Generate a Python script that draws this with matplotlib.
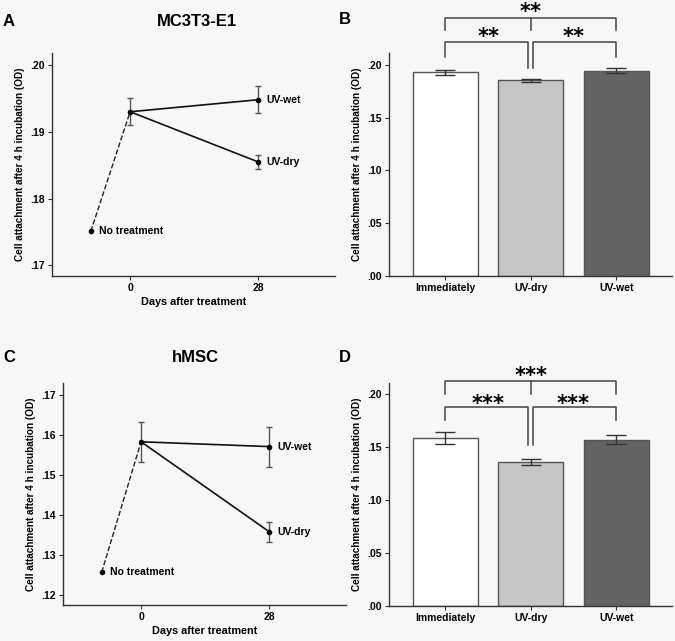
import matplotlib.pyplot as plt
from matplotlib.ticker import FuncFormatter

plt.rcParams['font.family'] = ['Liberation Sans', 'DejaVu Sans']

# line charts (A, C): days, means, error bar half ranges
days_nt = -8.6
days = [0, 28]
a_nt = 0.1751
a_day0 = 0.1930
a_day0_err = 0.0020
a_wet = 0.1948
a_wet_err = 0.0020
a_dry = 0.1855
a_dry_err = 0.0010

c_nt = 0.1257
c_day0 = 0.1583
c_day0_err = 0.0050
c_wet = 0.1571
c_wet_err = 0.0050
c_dry = 0.1358
c_dry_err = 0.0025

# bar charts (B, D)
groups = ['Immediately', 'UV-dry', 'UV-wet']
b_vals = [0.1931, 0.1855, 0.1946]
b_errs = [0.0025, 0.0013, 0.0027]
d_vals = [0.1582, 0.1356, 0.1568]
d_errs = [0.0055, 0.0027, 0.0043]
bar_colors = ['#ffffff', '#c6c6c6', '#636363']

bg = '#f7f7f7'
fmt = FuncFormatter(lambda v, p: ('%.2f' % v).lstrip('0'))

fig = plt.figure(figsize=(6.75, 6.41), dpi=100, facecolor=bg)


def style(ax):
    ax.set_facecolor(bg)
    for s in ['top', 'right']:
        ax.spines[s].set_visible(False)
    for s in ['left', 'bottom']:
        ax.spines[s].set_color('#333333')
        ax.spines[s].set_linewidth(1.0)
    ax.tick_params(axis='both', length=3, width=0.8, color='#333333', labelsize=7.5, pad=2)
    for lab in ax.get_xticklabels() + ax.get_yticklabels():
        lab.set_fontweight('bold')
    ax.yaxis.set_major_formatter(fmt)
    ax.set_ylabel('Cell attachment after 4 h incubation (OD)', fontsize=7.2, fontweight='bold', labelpad=4)


def line_panel(rect, nt, d0, d0e, wet, wete, dry, drye, ylim, yticks):
    ax = fig.add_axes(rect)
    ax.plot([days_nt, days[0]], [nt, d0], '--', color='#222222', lw=1)
    ax.plot(days, [d0, wet], '-', color='#111111', lw=1.2)
    ax.plot(days, [d0, dry], '-', color='#111111', lw=1.2)
    ax.errorbar([days[0], days[1], days[1]], [d0, wet, dry], yerr=[d0e, wete, drye],
                fmt='none', ecolor='#555555', elinewidth=1, capsize=2.2, capthick=1)
    ax.plot([days_nt, days[0], days[1], days[1]], [nt, d0, wet, dry], 'o', color='black', ms=3)
    ax.text(days[1] + 1.8, wet, 'UV-wet', fontsize=7.5, fontweight='bold', va='center')
    ax.text(days[1] + 1.8, dry, 'UV-dry', fontsize=7.5, fontweight='bold', va='center')
    ax.text(days_nt + 1.8, nt, 'No treatment', fontsize=7.5, fontweight='bold', va='center')
    ax.set_xlim(-17.1, 44.8)
    ax.set_ylim(*ylim)
    ax.set_xticks(days)
    ax.set_yticks(yticks)
    style(ax)
    ax.set_xlabel('Days after treatment', fontsize=7.8, fontweight='bold', labelpad=3)
    return ax


def bar_panel(rect, vals, errs, ylim, br, stars):
    ax = fig.add_axes(rect)
    x = range(len(groups))
    ax.bar(x, vals, width=0.76, color=bar_colors, edgecolor='#555555', linewidth=1)
    ax.errorbar(x, vals, yerr=errs, fmt='none', ecolor='#333333', elinewidth=1, capsize=7, capthick=1)
    ax.set_xlim(-0.663, 2.657)
    ax.set_ylim(*ylim)
    ax.set_xticks(list(x))
    ax.set_xticklabels(groups)
    ax.set_yticks([0, 0.05, 0.10, 0.15, 0.20])
    style(ax)
    o_top, o_leg, i_top, i_leg_out, i_leg_in, s_out, s_in = br
    kw = dict(color='#444444', lw=1.1, clip_on=False)
    ax.plot([0, 0, 2, 2], [o_leg, o_top, o_top, o_leg], **kw)
    ax.plot([1, 1], [o_top, o_leg], **kw)
    ax.plot([0, 0, 0.97, 0.97], [i_leg_out, i_top, i_top, i_leg_in], **kw)
    ax.plot([1.03, 1.03, 2, 2], [i_leg_in, i_top, i_top, i_leg_out], **kw)
    skw = dict(fontsize=15, fontweight='bold', family='DejaVu Sans', ha='center', va='center', clip_on=False)
    ax.text(1, s_out, stars, **skw)
    ax.text(0.5, s_in, stars, **skw)
    ax.text(1.5, s_in, stars, **skw)
    return ax


line_panel([0.077, 0.5694, 0.419, 0.3479], a_nt, a_day0, a_day0_err, a_wet, a_wet_err,
           a_dry, a_dry_err, (0.1684, 0.2018), [0.17, 0.18, 0.19, 0.20])
bar_panel([0.576, 0.5694, 0.42, 0.3479], b_vals, b_errs, (0, 0.2113),
          (0.244, 0.233, 0.2214, 0.2078, 0.1969, 0.2505, 0.2265), '**')
line_panel([0.093, 0.0562, 0.42, 0.3463], c_nt, c_day0, c_day0_err, c_wet, c_wet_err,
           c_dry, c_dry_err, (0.1175, 0.173), [0.12, 0.13, 0.14, 0.15, 0.16, 0.17])
bar_panel([0.576, 0.0546, 0.42, 0.3479], d_vals, d_errs, (0, 0.2101),
          (0.2123, 0.2, 0.1871, 0.1755, 0.1519, 0.2165, 0.1905), '***')

fig.text(197 / 675, 1 - 22 / 641, 'MC3T3-E1', fontsize=12, fontweight='bold', ha='center', va='center')
fig.text(195 / 675, 1 - 358 / 641, 'hMSC', fontsize=12, fontweight='bold', ha='center', va='center')
for lab, xp, yp in [('A', 3, 22), ('B', 339, 20), ('C', 3, 358), ('D', 339, 357)]:
    fig.text(xp / 675, 1 - yp / 641, lab, fontsize=12, fontweight='bold', ha='left', va='center')

fig.savefig('out.png', dpi=100, facecolor=bg)
